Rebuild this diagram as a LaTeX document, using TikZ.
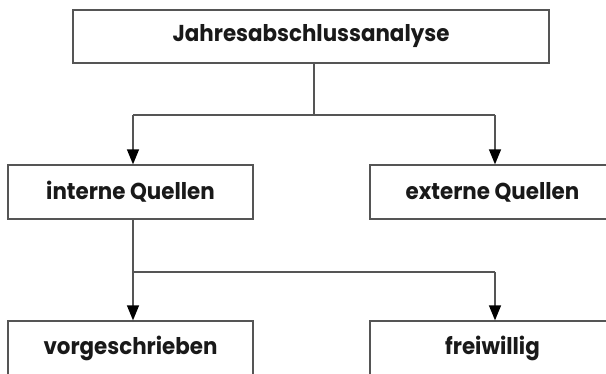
\documentclass[tikz,border=0pt]{standalone}
\usepackage{fontspec}
\setmainfont{Poppins}[FakeStretch=0.93]
\usetikzlibrary{arrows.meta}
\definecolor{linegray}{HTML}{555555}
\begin{document}
\begin{tikzpicture}[x=1pt,y=-1pt,
  box/.style={draw=linegray, line width=1.3pt, fill=white, minimum width=245pt,
    minimum height=54pt, inner sep=0pt, text=black!90,
    font=\fontsize{23}{26}\selectfont\bfseries},
  link/.style={draw=linegray, line width=1.3pt},
  arrow/.style={link, -{Triangle[length=15pt,width=12pt,color=black]}}]
  \useasboundingbox (0,0) rectangle (606,373);
  \clip (0,0) rectangle (606,373);
  % boxes
  \node[box, minimum width=476pt, minimum height=53pt] (jsa) at (311,36.5) {Jahresabschlussanalyse};
  \node[box] (int) at (130.5,192) {interne Quellen};
  \node[box] (ext) at (492.5,192) {externe Quellen};
  \node[box] (vor) at (130.5,348) {vorgeschrieben};
  \node[box] (frei) at (492.5,348) {freiwillig};
  % branch points
  \coordinate (t0) at (314,115);
  \coordinate (tl) at (133,115);
  \coordinate (tr) at (495,115);
  \coordinate (b0) at (133,272);
  \coordinate (br) at (495,272);
  % connectors
  \draw[link] (jsa.south -| t0) -- (t0);
  \draw[link] (tl) -- (tr);
  \draw[arrow] (tl) -- (tl |- int.north);
  \draw[arrow] (tr) -- (tr |- ext.north);
  \draw[link] (int.south -| b0) -- (b0) -- (br);
  \draw[arrow] (b0) -- (b0 |- vor.north);
  \draw[arrow] (br) -- (br |- frei.north);
\end{tikzpicture}
\end{document}
